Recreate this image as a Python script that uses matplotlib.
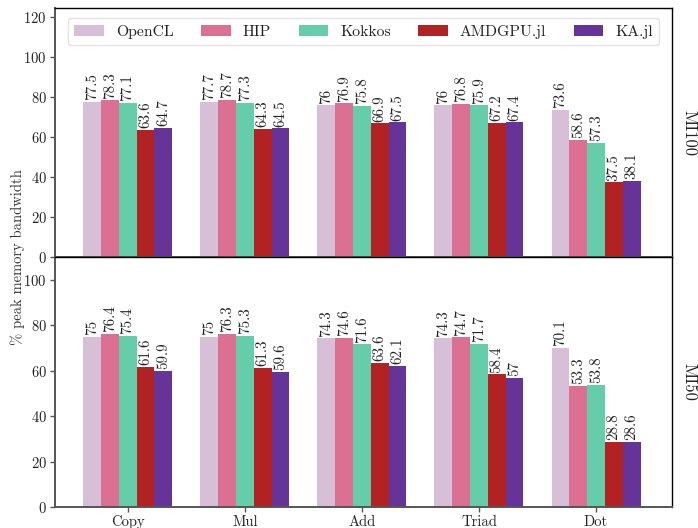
import numpy as np
import matplotlib
matplotlib.use('Agg')
import matplotlib.pyplot as plt

plt.rcParams['font.family'] = 'serif'
plt.rcParams['font.serif'] = ['cmr10', 'DejaVu Serif']
plt.rcParams['mathtext.fontset'] = 'cm'
plt.rcParams['axes.formatter.use_mathtext'] = True

benchmarks = ['Copy', 'Mul', 'Add', 'Triad', 'Dot']
backends = ['OpenCL', 'HIP', 'Kokkos', 'AMDGPU.jl', 'KA.jl']
colors = ['#d8bfd8', '#db7093', '#66cdaa', '#b22222', '#663399']

# % of peak bandwidth, one row per backend
mi100 = [
    [77.5, 77.7, 76.0, 76.0, 73.6],
    [78.3, 78.7, 76.9, 76.8, 58.6],
    [77.1, 77.3, 75.8, 75.9, 57.3],
    [63.6, 64.3, 66.9, 67.2, 37.5],
    [64.7, 64.5, 67.5, 67.4, 38.1],
]
mi50 = [
    [75.0, 75.0, 74.3, 74.3, 70.1],
    [76.4, 76.3, 74.6, 74.7, 53.3],
    [75.4, 75.3, 71.6, 71.7, 53.8],
    [61.6, 61.3, 63.6, 58.4, 28.8],
    [59.9, 59.6, 62.1, 57.0, 28.6],
]

fig, (ax1, ax2) = plt.subplots(2, 1, sharex=True, figsize=(6.98, 5.28), dpi=100)
fig.subplots_adjust(left=0.079, right=0.963, top=0.985, bottom=0.04, hspace=0)

x = np.arange(len(benchmarks))
w = 0.152


def fmt(v):
    return '%g' % v


def draw(ax, data, top, name, ticks):
    for i, (lab, c) in enumerate(zip(backends, colors)):
        pos = x + (i - 2) * w
        bars = ax.bar(pos, data[i], w, color=c, label=lab)
        for b, v in zip(bars, data[i]):
            ax.text(b.get_x() + b.get_width() / 2, v + 0.8, fmt(v), rotation=90,
                    ha='center', va='bottom', fontsize=10.8, color='#222222')
    ax.set_ylim(0, top)
    ax.set_yticks(ticks)
    ax.set_xlim(-0.62, 4.65)
    for s in ['left', 'bottom']:
        ax.spines[s].set_color('#555555')
        ax.spines[s].set_linewidth(1.4)
    for s in ['top', 'right']:
        ax.spines[s].set_color('black')
        ax.spines[s].set_linewidth(1.0)
    ax.tick_params(axis='both', colors='#555555', labelcolor='#222222', labelsize=10.5,
                   width=1, length=3.5, pad=2.5)
    ax.text(1.015, 0.5, name, transform=ax.transAxes, rotation=-90, ha='left', va='center',
            fontsize=12, color='#222222')


draw(ax1, mi100, 124.5, 'MI100', [0, 20, 40, 60, 80, 100, 120])
draw(ax2, mi50, 110, 'MI50', [0, 20, 40, 60, 80, 100])

ax2.set_xticks(x)
ax2.set_xticklabels(benchmarks)

leg = ax1.legend(loc='upper center', ncol=5, fontsize=11.3, frameon=True, fancybox=True,
                 bbox_to_anchor=(0.5, 0.99), handlelength=1.9, handletextpad=0.75,
                 columnspacing=1.75, borderpad=0.4)
leg.get_frame().set_edgecolor('#dddddd')
for t in leg.get_texts():
    t.set_color('#222222')

fig.text(0.026, (0.04 + 0.985) / 2, '% peak memory bandwidth', rotation=90, ha='center',
         va='center', fontsize=10.5, color='#333333')

fig.savefig('out.png', dpi=100)
